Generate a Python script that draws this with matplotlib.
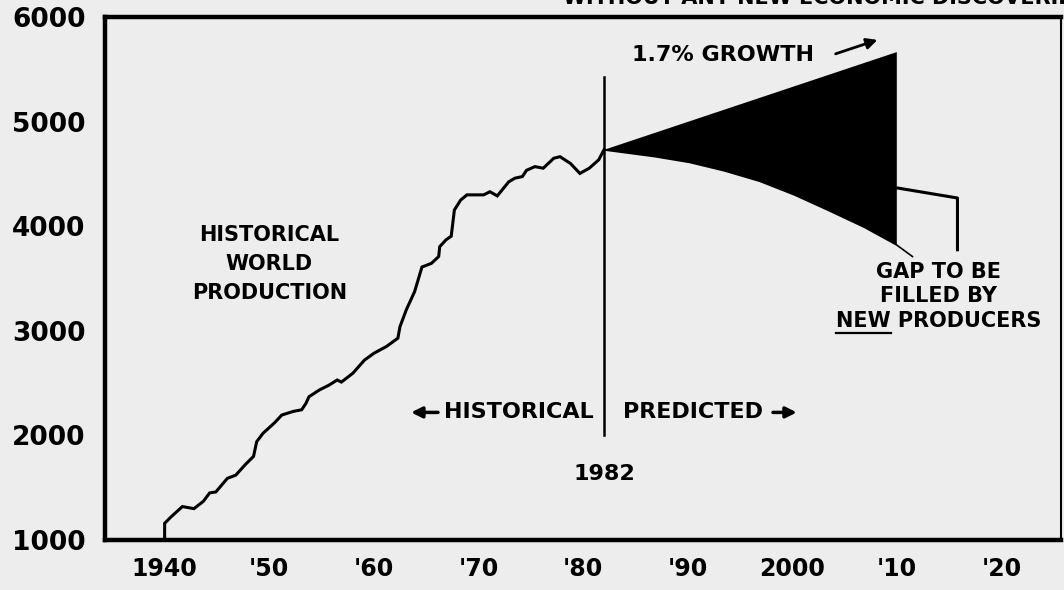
import matplotlib.pyplot as plt
import numpy as np
from matplotlib.lines import Line2D

plt.rcParams.update({
    "font.family": ["DejaVu Sans"],
    "font.weight": "bold",
})

# historical world production
hist_years = [1940.0, 1940.0, 1940.6, 1941.7, 1942.8, 1943.7, 1944.3, 1944.9, 1946.0, 1946.8,
              1947.7, 1948.5, 1948.8, 1949.4, 1950.5, 1951.2, 1952.3, 1953.1, 1953.5, 1953.8,
              1954.8, 1955.7, 1956.5, 1956.9, 1958.0, 1959.1, 1960.0, 1961.2, 1962.3, 1962.5,
              1963.1, 1963.9, 1964.6, 1965.5, 1966.2, 1966.3, 1966.9, 1967.4, 1967.7, 1968.3,
              1968.9, 1970.5, 1971.1, 1971.8, 1972.9, 1973.5, 1974.2, 1974.6, 1975.4, 1976.2,
              1977.2, 1977.8, 1978.8, 1979.7, 1980.6, 1981.5, 1982.0]
hist_vals = [1030, 1160, 1220, 1320, 1300, 1370, 1450, 1460, 1590, 1620,
             1720, 1800, 1940, 2020, 2120, 2195, 2230, 2245, 2305, 2370,
             2435, 2480, 2530, 2510, 2595, 2720, 2785, 2850, 2930, 3040,
             3200, 3375, 3610, 3645, 3710, 3805, 3870, 3905, 4155, 4250,
             4300, 4300, 4330, 4290, 4425, 4460, 4475, 4535, 4570, 4555,
             4650, 4665, 4600, 4505, 4555, 4635, 4730]

# predicted: 1.7% growth line and supply without new discoveries
growth_years = [1982, 2010]
growth_vals = [4730, 5665]
supply_years = [1982, 1986.9, 1990.2, 1993.5, 1996.9, 2000.2, 2003.5, 2006.9, 2010.0, 2011.5]
supply_vals = [4730, 4665, 4610, 4530, 4430, 4300, 4150, 3990, 3820, 3710]

xticks = [1940, 1950, 1960, 1970, 1980, 1990, 2000, 2010, 2020]
xlabels = ["1940", "'50", "'60", "'70", "'80", "'90", "2000", "'10", "'20"]
yticks = [1000, 2000, 3000, 4000, 5000, 6000]

BG = "#ededed"
fig = plt.figure(figsize=(10.64, 5.9), dpi=100, facecolor=BG)
ax = fig.add_axes([0.0987, 0.0847, 0.8985, 0.8864], facecolor=BG)

ax.plot(hist_years, hist_vals, color="black", lw=2.2, solid_joinstyle="miter")

# gap wedge
poly_x = growth_years + supply_years[-2::-1]
poly_y = growth_vals + supply_vals[-2::-1]
ax.fill(poly_x, poly_y, color="black", lw=0)
ax.plot(supply_years, supply_vals, color="black", lw=1.2)

# 1982 divider
ax.plot([1982, 1982], [2000, 5430], color="black", lw=1.8)

# bracket to the gap label
ax.plot([2010.1, 2015.8, 2015.8], [4365, 4270, 3775], color="black", lw=2.2)

ax.set_xlim(1934.3, 2025.7)
ax.set_ylim(1000, 6000)
ax.set_xticks(xticks, xlabels)
ax.set_yticks(yticks)
ax.tick_params(axis="both", length=0)
ax.tick_params(axis="y", labelsize=19, pad=14)
ax.tick_params(axis="x", labelsize=17, pad=12)
for s in ["left", "bottom", "top"]:
    ax.spines[s].set_linewidth(3.2)
ax.spines["right"].set_linewidth(1.5)

ax.text(1950.0, 3640, "HISTORICAL\nWORLD\nPRODUCTION", ha="center", va="center",
        fontsize=15, linespacing=1.55)
ax.text(1984.7, 5637, "1.7% GROWTH", ha="left", va="center", fontsize=16)
ax.annotate("", xy=(2008.4, 5790), xytext=(2003.9, 5640),
            arrowprops=dict(arrowstyle="-|>", color="black", lw=2, mutation_scale=16))

ax.text(1981.0, 2220, "HISTORICAL", ha="right", va="center", fontsize=16)
ax.annotate("", xy=(1963.3, 2220), xytext=(1966.4, 2220),
            arrowprops=dict(arrowstyle="-|>", color="black", lw=2.5, mutation_scale=16))
ax.text(1983.8, 2220, "PREDICTED", ha="left", va="center", fontsize=16)
ax.annotate("", xy=(2000.7, 2220), xytext=(1997.9, 2220),
            arrowprops=dict(arrowstyle="-|>", color="black", lw=2.5, mutation_scale=16))
ax.text(1982, 1630, "1982", ha="center", va="center", fontsize=16)

gap = ax.text(2014.0, 3330, "GAP TO BE\nFILLED BY\nNEW PRODUCERS", ha="center", va="center",
              fontsize=15, linespacing=1.3)

# underline "NEW" on the last line of the gap label
fig.canvas.draw()
r = fig.canvas.get_renderer()
bb = gap.get_window_extent(r)
tmp = ax.text(0, 0, "NEW PRODUCERS", fontsize=15)
w_all = tmp.get_window_extent(r).width
tmp.set_text("NEW")
w_new = tmp.get_window_extent(r).width
tmp.remove()
x0 = bb.x0 + (bb.width - w_all) / 2
yl = bb.y0 - 2
W, H = fig.bbox.width, fig.bbox.height
fig.add_artist(Line2D([x0 / W, (x0 + w_new) / W], [yl / H, yl / H], color="black", lw=1.6))

# title line cut off at the top of the scan
fig.text(563 / 1064, 1 - 4 / 590, "WITHOUT ANY NEW ECONOMIC DISCOVERIES", ha="left",
         va="baseline", fontsize=15)

fig.savefig("out.png", dpi=100, facecolor=BG)
